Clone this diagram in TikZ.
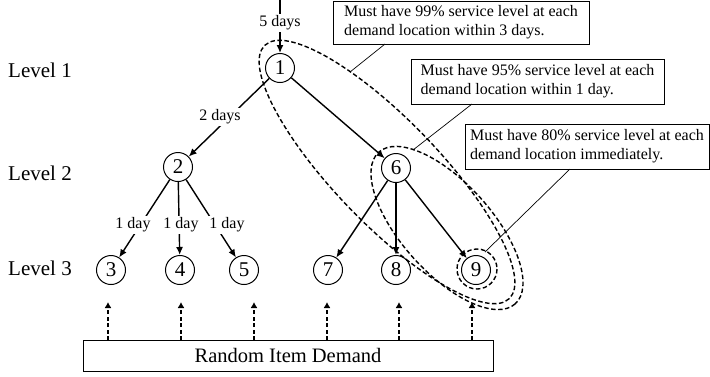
\documentclass[tikz,border=0pt]{standalone}
\usepackage{fontspec}
\setmainfont{Liberation Serif}
\usetikzlibrary{arrows.meta}
\begin{document}
\begin{tikzpicture}[x=1pt,y=-1pt,
  loc/.style={circle,draw,line width=1pt,minimum size=29pt,inner sep=0pt,font=\fontsize{21}{24}\selectfont},
  arr/.style={line width=1.4pt,-{Latex[length=8pt,width=7pt]}},
  lbl/.style={fill=white,inner sep=1.5pt,font=\fontsize{16}{19}\selectfont},
  lev/.style={anchor=west,inner sep=0pt,font=\fontsize{21}{24}\selectfont},
  callout/.style={draw,line width=0.9pt,align=left,inner sep=0pt,font=\fontsize{16}{19}\selectfont},
  ptr/.style={line width=0.7pt},
  zone/.style={line width=1.4pt,dash pattern=on 4.5pt off 2.5pt},
  dem/.style={line width=1.4pt,dash pattern=on 4pt off 2.5pt,-{Latex[length=6pt,width=7pt]}}
]
\useasboundingbox (0,0) rectangle (710,376);

% level labels
\node[lev] (L1) at (8,70) {Level 1};
\node[lev] (L2) at (8,173) {Level 2};
\node[lev] (L3) at (8,268) {Level 3};

% locations
\node[loc] (n1) at (280,68) {1};
\node[loc] (n2) at (178,167) {2};
\node[loc] (n6) at (396,168) {6};
\node[loc] (n3) at (111,270) {3};
\node[loc] (n4) at (180,270) {4};
\node[loc] (n5) at (244,270) {5};
\node[loc] (n7) at (328,270) {7};
\node[loc] (n8) at (396,270) {8};
\node[loc] (n9) at (476,270) {9};

% supply edges
\coordinate (top) at (280,0);
\draw[arr] (top) -- (n1);
\draw[arr] (n1) -- (n2);
\draw[arr] (n1) -- (n6);
\draw[arr] (n2) -- (n3);
\draw[arr] (n2) -- (n4);
\draw[arr] (n2) -- (n5);
\draw[arr] (n6) -- (n7);
\draw[arr] (n6) -- (n8);
\draw[arr] (n6) -- (n9);

% lead-time labels
\node[lbl] (t5) at (280,23) {5 days};
\node[lbl] (t2) at (220,117) {2 days};
\node[lbl] (t3) at (133,225) {1 day};
\node[lbl] (t4) at (181,225) {1 day};
\node[lbl] (t6) at (227,225) {1 day};

% service zones
\coordinate (cL) at (387,172);
\coordinate (cM) at (447,228);
\coordinate (cS) at (477,269);
\draw[zone, rotate around={-46:(cL)}] (cL) ellipse [x radius=176, y radius=52];
\draw[zone, rotate around={-48:(cM)}] (cM) ellipse [x radius=102, y radius=45];
\draw[zone] (cS) circle [radius=20];

% callouts
\node[callout, minimum width=256pt, minimum height=43pt] (b1) at (461,22.5)
  {Must have 99\% service level at each\\demand location within 3 days.};
\node[callout, minimum width=253pt, minimum height=45pt] (b2) at (537.5,81.5)
  {Must have 95\% service level at each\\demand location within 1 day.};
\node[callout, minimum width=244pt, minimum height=45pt] (b3) at (587,146.5)
  {Must have 80\% service level at each\\demand location immediately.};
\coordinate (p1a) at (385,44);
\coordinate (p1b) at (350,72);
\coordinate (p2a) at (472,104);
\coordinate (p2b) at (413,150);
\coordinate (p3a) at (570,169);
\coordinate (p3b) at (485,252);
\draw[ptr] (p1a) -- (p1b);
\draw[ptr] (p2a) -- (p2b);
\draw[ptr] (p3a) -- (p3b);

% demand
\node[draw, line width=0.9pt, minimum width=410pt, minimum height=31pt, inner sep=0pt,
  font=\fontsize{20.5}{24}\selectfont] (dm) at (288,355.5) {Random Item Demand};
\foreach \i/\x in {a/108,b/181,c/254,d/327,e/399,f/472} {
  \coordinate (s\i) at (\x,340);
  \coordinate (e\i) at (\x,302);
  \draw[dem] (s\i) -- (e\i);
}
\end{tikzpicture}
\end{document}
